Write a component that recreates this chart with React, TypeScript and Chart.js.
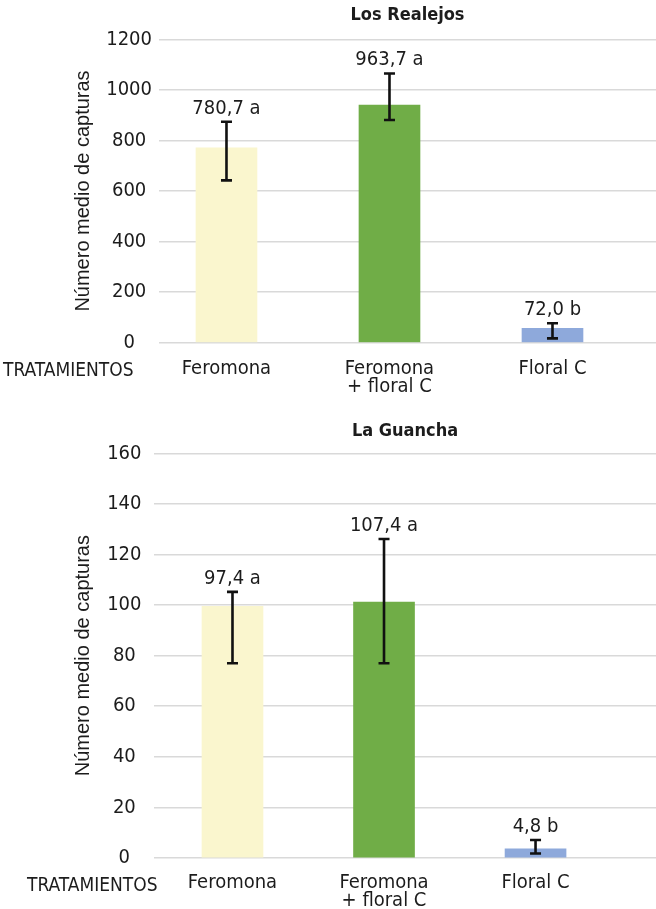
import React, { useEffect, useRef } from "react";
import { Chart, registerables } from "chart.js";

Chart.register(...registerables);

// ---------- data ----------
const categories: string[][] = [["Feromona"], ["Feromona", "+ floral C"], ["Floral C"]];
const barColors = ["#FAF6CE", "#70AD47", "#8EA9DB"];
const axisName = "TRATAMIENTOS";
const yAxisTitle = "Número medio de capturas";

const realejosTitle = "Los Realejos";
const realejosMeans = [771, 940, 57];
const realejosErrLow = [642, 881, 17];
const realejosErrHigh = [874, 1065, 77];
const realejosLabels = ["780,7 a", "963,7 a", "72,0 b"];
const realejosYMax = 1200;
const realejosYStep = 200;

const guanchaTitle = "La Guancha";
const guanchaMeans = [99.5, 101.2, 3.6];
const guanchaErrLow = [77, 77, 1.8];
const guanchaErrHigh = [105.2, 126.1, 7.1];
const guanchaLabels = ["97,4 a", "107,4 a", "4,8 b"];
const guanchaYMax = 160;
const guanchaYStep = 20;

// ---------- style ----------
const NARROW = "'Liberation Sans Narrow', 'DejaVu Sans Condensed', Roboto, sans-serif";
const REGULAR = "'Liberation Sans', Arial, sans-serif";
const TEXT = "#1c1c1c";

type PanelProps = {
  top: number;
  height: number;
  title: string;
  means: number[];
  low: number[];
  high: number[];
  labels: string[];
  yMax: number;
  yStep: number;
  xMin: number;
  xMax: number;
  yAxisWidth: number;
  xAxisHeight: number;
  titlePadTop: number;
  titlePadBottom: number;
  tickPad: number;
  xTickPad: number;
  axisNameX: number;
};

function Panel(p: PanelProps) {
  const ref = useRef<HTMLCanvasElement | null>(null);
  useEffect(() => {
    if (!ref.current) return;
    const errPlugin = {
      id: "errbars",
      afterDatasetsDraw(chart: any) {
        const ctx = chart.ctx as CanvasRenderingContext2D;
        const meta = chart.getDatasetMeta(0);
        const ys = chart.scales.y;
        ctx.save();
        meta.data.forEach((bar: any, i: number) => {
          const x = bar.x;
          const yl = ys.getPixelForValue(p.low[i]);
          const yh = ys.getPixelForValue(p.high[i]);
          ctx.strokeStyle = "#111";
          ctx.lineWidth = 2.6;
          ctx.beginPath();
          ctx.moveTo(x, yl);
          ctx.lineTo(x, yh);
          ctx.moveTo(x - 5.5, yl);
          ctx.lineTo(x + 5.5, yl);
          ctx.moveTo(x - 5.5, yh);
          ctx.lineTo(x + 5.5, yh);
          ctx.stroke();
          ctx.fillStyle = TEXT;
          ctx.font = `20px ${NARROW}`;
          ctx.textAlign = "center";
          ctx.textBaseline = "alphabetic";
          ctx.fillText(p.labels[i], x, yh - 8);
        });
        ctx.fillStyle = TEXT;
        ctx.font = `19px ${NARROW}`;
        ctx.textAlign = "left";
        ctx.textBaseline = "middle";
        ctx.fillText(axisName, p.axisNameX, chart.chartArea.bottom + 28);
        ctx.restore();
      },
    };

    const chart = new Chart(ref.current, {
      type: "bar",
      data: {
        datasets: [
          {
            data: p.means.map((v, i) => ({ x: i, y: v })),
            backgroundColor: barColors,
            borderWidth: 0,
            barThickness: 61,
          },
        ],
      },
      options: {
        animation: false,
        responsive: false,
        layout: { padding: 0 },
        plugins: {
          legend: { display: false },
          tooltip: { enabled: false },
          title: {
            display: true,
            text: p.title,
            fullSize: false,
            color: TEXT,
            font: { family: NARROW, size: 18, weight: "bold", lineHeight: 1.2 },
            padding: { top: p.titlePadTop, bottom: p.titlePadBottom },
          },
        },
        scales: {
          x: {
            type: "linear",
            offset: false,
            min: p.xMin,
            max: p.xMax,
            afterBuildTicks: (s: any) => {
              s.ticks = categories.map((_, i) => ({ value: i }));
            },
            afterFit: (s: any) => {
              s.height = p.xAxisHeight;
            },
            grid: { display: false, drawTicks: false, offset: false },
            border: { display: false },
            ticks: {
              autoSkip: false,
              maxRotation: 0,
              padding: p.xTickPad,
              color: TEXT,
              font: { family: NARROW, size: 20, lineHeight: 0.9 },
              callback: (v: any) => categories[v as number] ?? "",
            },
          },
          y: {
            min: 0,
            max: p.yMax,
            afterFit: (s: any) => {
              s.width = p.yAxisWidth;
            },
            grid: { color: "#d9d9d9", lineWidth: 1.5, drawTicks: false },
            border: { display: false },
            ticks: {
              stepSize: p.yStep,
              padding: p.tickPad,
              crossAlign: "center",
              color: TEXT,
              font: { family: NARROW, size: 20 },
              callback: (v: any) => String(v),
            },
            title: {
              display: true,
              text: yAxisTitle,
              color: TEXT,
              font: { family: REGULAR, size: 20, lineHeight: 1.2 },
              padding: { top: 71, bottom: 0 },
            },
          },
        },
      },
      plugins: [errPlugin],
    } as any);
    return () => chart.destroy();
  }, []);
  return (
    <canvas
      ref={ref}
      width={656}
      height={p.height}
      style={{ position: "absolute", left: 0, top: p.top, width: 656, height: p.height }}
    />
  );
}

export default function App() {
  return (
    <div style={{ position: "absolute", left: 0, top: 0, width: 656, height: 909, background: "#fff" }}>
      <Panel
        top={0}
        height={400}
        title={realejosTitle}
        means={realejosMeans}
        low={realejosErrLow}
        high={realejosErrHigh}
        labels={realejosLabels}
        yMax={realejosYMax}
        yStep={realejosYStep}
        xMin={-0.414}
        xMax={2.635}
        yAxisWidth={159}
        xAxisHeight={57.3}
        titlePadTop={5}
        titlePadBottom={12.7}
        tickPad={7}
        xTickPad={17}
        axisNameX={3}
      />
      <Panel
        top={400}
        height={509}
        title={guanchaTitle}
        means={guanchaMeans}
        low={guanchaErrLow}
        high={guanchaErrHigh}
        labels={guanchaLabels}
        yMax={guanchaYMax}
        yStep={guanchaYStep}
        xMin={-0.518}
        xMax={2.795}
        yAxisWidth={154}
        xAxisHeight={51}
        titlePadTop={20.9}
        titlePadBottom={10.8}
        tickPad={12.5}
        xTickPad={16}
        axisNameX={27}
      />
    </div>
  );
}
